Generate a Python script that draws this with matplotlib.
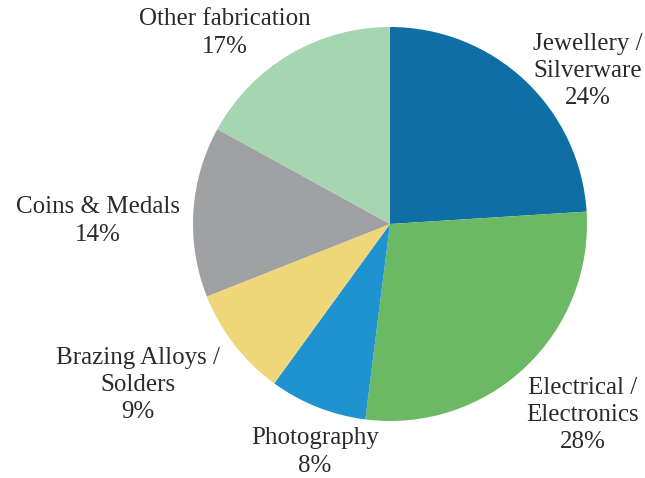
import matplotlib
matplotlib.use("Agg")
import matplotlib.pyplot as plt

categories = ["Jewellery /\nSilverware", "Electrical /\nElectronics", "Photography",
              "Brazing Alloys /\nSolders", "Coins & Medals", "Other fabrication"]
values = [24, 28, 8, 9, 14, 17]
colors = ["#0f6ea3", "#6bb865", "#1f93cf", "#efd779", "#a0a1a3", "#a6d6b1"]
# label anchor positions (pixels, image coords)
label_pos = [(588, 71), (583, 415), (315, 452), (138, 385), (98, 221), (225, 33)]

W, H = 645, 478
fig = plt.figure(figsize=(W / 100, H / 100), dpi=100)
ax = fig.add_axes([0, 0, 1, 1])

cx, cy, r = 390, H - 224, 197
ax.pie(values, colors=colors, startangle=90, counterclock=False,
       center=(cx, cy), radius=r, frame=True,
       wedgeprops=dict(linewidth=0))
ax.set_xlim(0, W)
ax.set_ylim(0, H)
ax.set_aspect("equal")
ax.axis("off")

for cat, v, (x, y) in zip(categories, values, label_pos):
    ax.text(x, H - y, f"{cat}\n{v}%", ha="center", va="center",
            fontsize=18, family="Liberation Serif", color="#2a2a2a",
            linespacing=1.32)

fig.savefig("out.png", dpi=100)
